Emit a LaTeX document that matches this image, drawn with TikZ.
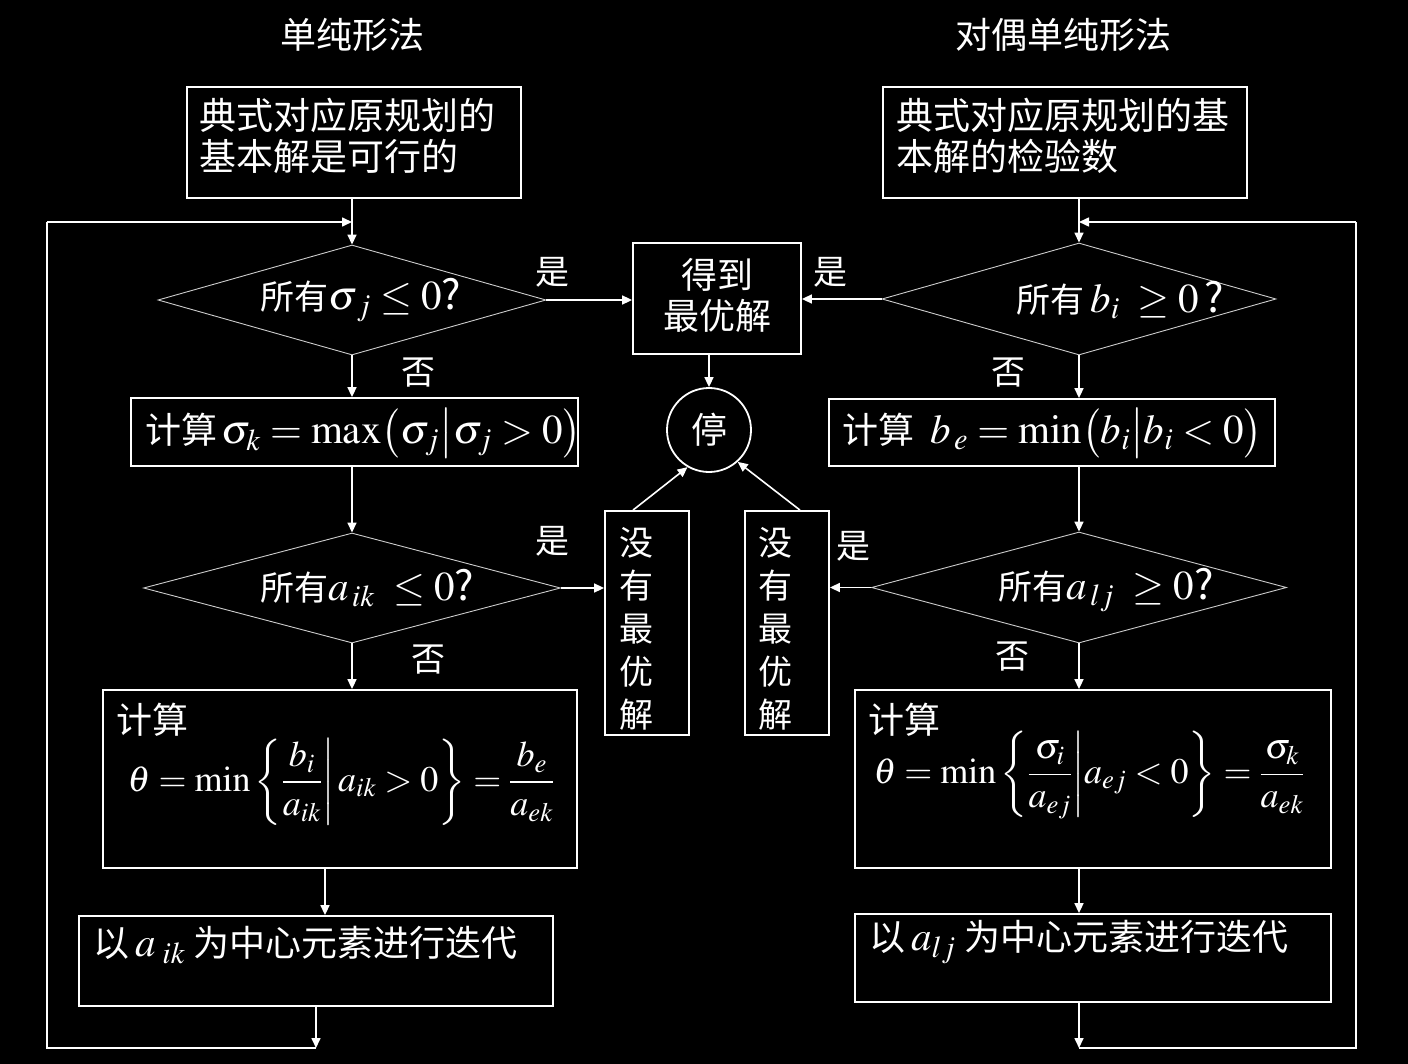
\documentclass[tikz,border=0pt]{standalone}
\usepackage{mathptmx}
\usepackage[no-math]{fontspec}
\setmainfont{Noto Sans CJK SC}
\usetikzlibrary{shapes.geometric,arrows.meta,calc}
\newcommand\mfont{\fontsize{41}{44}\selectfont}
\tikzset{
  box/.style={draw=white, line width=1.8pt, inner sep=0},
  dia/.style={draw=white!80!black, line width=0.9pt, diamond, inner sep=0},
  cjk/.style={inner sep=0, text=white, font=\fontsize{36}{41}\selectfont},
  big/.style={inner sep=0, text=white, font=\fontsize{37}{41}\selectfont},
  lab/.style={inner sep=0, text=white, font=\fontsize{34}{40}\selectfont},
  vert/.style={inner sep=0, text=white, align=center, font=\fontsize{34}{43}\selectfont},
  arr/.style={draw=white, -{Triangle[length=10pt,width=9pt]}, line width=1.6pt},
  ln/.style={draw=white, line width=1.6pt},
}
\begin{document}
\begin{tikzpicture}[x=1pt,y=-1pt]
\fill[black] (0,0) rectangle (1408,1064);
\useasboundingbox (0,0) rectangle (1408,1064);

% titles
\node[cjk] (T1) at (352,35) {单纯形法};
\node[cjk] (T2) at (1063,35) {对偶单纯形法};

% ---------- left column ----------
\node[box, minimum width=334, minimum height=111] (A1) at (354,142.5) {};
\node[big, anchor=north west, align=left] (A1t) at (199,98) {典式对应原规划的\\基本解是可行的};

\node[dia, minimum width=388, minimum height=110] (D1) at (352,300) {};
\node[lab] (D1t) at (361,300) {所有{\mfont$\sigma_{\,j}\le 0$?}};

\node[box, minimum width=447, minimum height=68] (L2) at (354.5,432) {};
\node[cjk, anchor=west] (L2t) at (145,433) {计算{\mfont$\,\sigma_k=\max\bigl(\sigma_j\big|\sigma_j>0\bigr)$}};

\node[dia, minimum width=417, minimum height=110] (D3) at (352,588) {};
\node[lab] (D3t) at (367,588) {所有{\mfont$a_{\,ik}\ \le 0$?}};

\node[box, minimum width=474, minimum height=178] (L4) at (340,779) {};
\node[cjk, anchor=west] (L4a) at (116,720) {计算};
\node[cjk] (L4b) at (341,782) {$\displaystyle\theta=\min\left\{\frac{b_i}{a_{ik}}\middle|\,a_{ik}>0\right\}=\frac{b_e}{a_{ek}}$};

\node[box, minimum width=474, minimum height=90] (L5) at (316,961) {};
\node[cjk, anchor=west] (L5t) at (93,945) {以\,{\mfont$a_{\;ik}$}\ 为中心元素进行迭代};

% ---------- centre ----------
\node[box, minimum width=168, minimum height=111] (G) at (717,298.5) {};
\node[cjk, align=center] (Gt) at (717,295) {得到\\最优解};

\node[draw=white, circle, line width=1.8pt, minimum size=84, inner sep=0, text=white, font=\fontsize{36}{41}\selectfont] (S) at (709,430) {停};

\node[box, minimum width=84, minimum height=224] (NL) at (647,623) {};
\node[vert] (NLt) at (636,629) {没\\有\\最\\优\\解};
\node[box, minimum width=84, minimum height=224] (NR) at (787,623) {};
\node[vert] (NRt) at (775,629) {没\\有\\最\\优\\解};

% ---------- right column ----------
\node[box, minimum width=364, minimum height=111] (B1) at (1065,142.5) {};
\node[big, anchor=north west, align=left] (B1t) at (896,98) {典式对应原规划的基\\本解的检验数};

\node[dia, minimum width=394, minimum height=112] (R1) at (1079,299) {};
\node[lab] (R1t) at (1120,300) {所有\,{\mfont$b_i\ \ge 0\,$?}};

\node[box, minimum width=446, minimum height=67] (R2) at (1052,432.5) {};
\node[cjk, anchor=west] (R2t) at (842,433) {计算\ \ {\mfont$b_{\,e}=\min\bigl(b_i\big|b_i<0\bigr)$}};

\node[dia, minimum width=415, minimum height=111] (R3) at (1079,587.5) {};
\node[lab] (R3t) at (1106,590) {所有{\mfont$a_{\,lj}\ \ge 0$?}};

\node[box, minimum width=476, minimum height=178] (R4) at (1093,779) {};
\node[cjk, anchor=west] (R4a) at (868,720) {计算};
\node[cjk] (R4b) at (1089,775) {$\displaystyle\theta=\min\left\{\frac{\sigma_i}{a_{ej}}\middle|a_{ej}<0\right\}=\frac{\sigma_k}{a_{ek}}$};

\node[box, minimum width=476, minimum height=88] (R5) at (1093,958) {};
\node[cjk, anchor=west] (R5t) at (869,942) {以\,{\mfont$a_{lj}$}\ 为中心元素进行迭代};

% ---------- labels ----------
\node[lab] (y1) at (552,272) {是};
\node[lab] (y2) at (830,272) {是};
\node[lab] (n1) at (418,373) {否};
\node[lab] (n2) at (1008,373) {否};
\node[lab] (y3) at (552,541) {是};
\node[lab] (n3) at (428,660) {否};
\node[lab] (y4) at (853,546) {是};
\node[lab] (n4) at (1012,657) {否};

% ---------- connectors left ----------
\coordinate (LB) at (47,1048);
\coordinate (LT) at (47,222);
\draw[arr] (D1.north |- A1.south) -- (D1.north);
\draw[arr] (D1.south) -- (D1.south |- L2.north);
\draw[arr] (D3.north |- L2.south) -- (D3.north);
\draw[arr] (D3.south) -- (D3.south |- L4.north);
\draw[arr] ([xshift=-15pt]L4.south) -- ([xshift=-15pt]L4.south |- L5.north);
\draw[arr] (L5.south) -- (L5.south |- LB);
\draw[ln] (L5.south |- LB) -- (LB) -- (LT);
\draw[arr] (LT) -- (LT -| D1.north);
\draw[arr] (D1.east) -- (D1.east -| G.west);
\draw[arr] (D3.east) -- (D3.east -| NL.west);

% ---------- connectors centre ----------
\draw[arr] (S.north |- G.south) -- (S.north);
\draw[arr] ([xshift=-14pt]NL.north) -- (S.240);
\draw[arr] ([xshift=13pt]NR.north) -- (S.-48);

% ---------- connectors right ----------
\coordinate (RB) at (1356,1048);
\coordinate (RT) at (1356,222);
\draw[arr] (R1.north |- B1.south) -- (R1.north);
\draw[arr] (R1.south) -- (R1.south |- R2.north);
\draw[arr] (R3.north |- R2.south) -- (R3.north);
\draw[arr] (R3.south) -- (R3.south |- R4.north);
\draw[arr] (R3.south |- R4.south) -- (R3.south |- R5.north);
\draw[arr] (R3.south |- R5.south) -- (R3.south |- RB);
\draw[ln] (R3.south |- RB) -- (RB) -- (RT);
\draw[arr] (RT) -- (RT -| R1.north);
\draw[arr] (R1.west) -- (R1.west -| G.east);
\draw[arr] (R3.west) -- (R3.west -| NR.east);
\end{tikzpicture}
\end{document}
